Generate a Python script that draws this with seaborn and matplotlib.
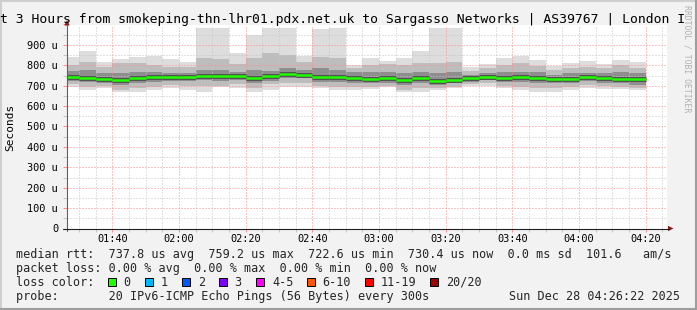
import numpy as np
import pandas as pd
import matplotlib
matplotlib.use("Agg")
import matplotlib.pyplot as plt
from matplotlib.patches import Rectangle, Polygon
from matplotlib.lines import Line2D
from matplotlib.ticker import FixedLocator, FuncFormatter
import seaborn as sns

# ---------------- data (microseconds) ----------------
bar_start = pd.date_range("2025-12-28 01:25", periods=35, freq="5min")

rtt_max = [842, 870, 818, 829, 842, 846, 830, 816, 985, 985, 862, 947, 985, 985, 848, 980, 985, 801,
           834, 821, 834, 870, 985, 985, 793, 805, 837, 847, 826, 798, 813, 821, 807, 826, 815]
rtt_hi2 = [801, 818, 793, 810, 813, 801, 790, 793, 834, 830, 806, 834, 859, 850, 818, 842, 834, 785,
           801, 806, 801, 810, 810, 818, 773, 785, 801, 810, 796, 777, 785, 793, 785, 801, 785]
rtt_hi3 = [773, 777, 761, 761, 769, 769, 761, 761, 777, 775, 769, 777, 772, 785, 777, 785, 777, 765,
           769, 769, 761, 769, 761, 769, 752, 761, 769, 769, 765, 752, 761, 764, 761, 769, 761]
rtt_median = [743, 738, 734, 728, 738, 742, 742, 744, 747, 747, 747, 738, 747, 759.2, 754, 742, 742, 738,
              733, 736, 728, 738, 722.6, 728, 738, 742, 738, 741, 736, 733, 733, 742, 738, 734, 730.4]
rtt_lo3 = [724, 720, 715, 703, 715, 720, 724, 724, 728, 722, 728, 712, 725, 736, 736, 720, 720, 715,
           712, 715, 703, 715, 703, 712, 720, 728, 720, 720, 712, 712, 712, 724, 715, 712, 703]
rtt_lo2 = [707, 695, 698, 679, 687, 695, 703, 698, 698, 700, 707, 687, 707, 712, 712, 698, 695, 695,
           695, 698, 679, 687, 687, 695, 707, 712, 698, 695, 687, 687, 695, 703, 698, 695, 687]
rtt_min = [696, 679, 690, 667, 667, 679, 690, 679, 667, 692, 690, 667, 679, 695, 695, 687, 679, 679,
           682, 692, 667, 671, 679, 687, 698, 698, 687, 679, 671, 671, 679, 687, 682, 684, 679]

y_ticks = [0, 100, 200, 300, 400, 500, 600, 700, 800, 900, 1000]
x_tick_labels = ["01:40", "02:00", "02:20", "02:40", "03:00", "03:20", "03:40", "04:00", "04:20"]

title = "t 3 Hours from smokeping-thn-lhr01.pdx.net.uk to Sargasso Networks | AS39767 | London I"
legend_rtt = "median rtt:  737.8 us avg  759.2 us max  722.6 us min  730.4 us now  0.0 ms sd  101.6   am/s"
legend_loss = "packet loss: 0.00 % avg  0.00 % max  0.00 % min  0.00 % now"
loss_labels = ["0", "1", "2", "3", "4-5", "6-10", "11-19", "20/20"]
loss_colors = ["#20ff00", "#00b8ff", "#0059ff", "#7e00ff", "#ff00ff", "#ff5500", "#ff0000", "#a10000"]
probe_text = "probe:       20 IPv6-ICMP Echo Pings (56 Bytes) every 300s"
date_text = "Sun Dec 28 04:26:22 2025"

# ---------------- style ----------------
sns.set_theme(style="white")
plt.rcParams["font.family"] = ["DejaVu Sans Mono"]

W, H = 697, 310
fig = plt.figure(figsize=(W / 100, H / 100), dpi=100, facecolor="#f2f2f2")


def fx(x):
    return x / W


def fy(y):
    return 1 - y / H


ax = fig.add_axes([fx(67), fy(228.5), 600 / W, 204 / H])
ax.set_facecolor("white")

t_start = np.array([ts.hour * 60 + ts.minute for ts in bar_start], dtype=float)
bin_w = 5.0

df = pd.DataFrame({"t": t_start, "max": rtt_max, "hi2": rtt_hi2, "hi3": rtt_hi3,
                   "med": rtt_median, "lo3": rtt_lo3, "lo2": rtt_lo2, "min": rtt_min})

for lo, hi, col in [("min", "max", "#dddddd"), ("lo2", "hi2", "#bdbdbd"), ("lo3", "hi3", "#8e8e8e")]:
    ax.bar(df["t"], df[hi] - df[lo], bottom=df[lo], width=bin_w, align="edge",
           color=col, linewidth=0, antialiased=False, zorder=1)

# median segments
seg = pd.DataFrame({
    "t": np.concatenate([df["t"], df["t"] + bin_w]),
    "rtt": np.concatenate([df["med"], df["med"]]),
    "bar": np.concatenate([np.arange(len(df)), np.arange(len(df))]),
})
sns.lineplot(data=seg, x="t", y="rtt", units="bar", estimator=None, ax=ax,
             color="#4a4a4a", linewidth=3.4, legend=False, zorder=3, solid_capstyle="butt")
sns.lineplot(data=seg, x="t", y="rtt", units="bar", estimator=None, ax=ax,
             color=loss_colors[0], linewidth=1.8, legend=False, zorder=4, solid_capstyle="butt")

t_end = 4 * 60 + 26 + 22 / 60
ax.set_xlim(t_end - 180, t_end)
ax.set_ylim(0, 1000)
ax.set_xlabel("")
ax.set_ylabel("")

x_major = [int(s[:2]) * 60 + int(s[3:]) for s in x_tick_labels]
ax.xaxis.set_major_locator(FixedLocator(x_major))
ax.set_xticklabels(x_tick_labels)
ax.xaxis.set_minor_locator(FixedLocator(np.arange(90, 270, 5)))
ax.yaxis.set_major_locator(FixedLocator(y_ticks))
ax.yaxis.set_minor_locator(FixedLocator(np.arange(50, 1000, 100)))
ax.yaxis.set_major_formatter(FuncFormatter(
    lambda v, p: "0" if v == 0 else ("" if v >= 1000 else f"{int(v)} u")))

ax.set_axisbelow(False)
dots = (0, (1, 2))
ax.grid(True, which="major", color="#ff8c8c", linestyle=dots, linewidth=0.72)
ax.grid(True, which="minor", color="#c4c4c4", linestyle=dots, linewidth=0.72)

for s in ax.spines.values():
    s.set_visible(False)

ax.tick_params(axis="x", which="major", length=2, width=0.7, color="#ff8c8c", pad=1.6,
               labelsize=7.4, labelcolor="black", bottom=True)
ax.tick_params(axis="x", which="minor", length=2, width=0.7, color="#c4c4c4", bottom=True)
ax.tick_params(axis="y", which="major", length=3, width=0.7, color="#ff8c8c", pad=3.4,
               labelsize=7.4, labelcolor="black", left=True)
ax.tick_params(axis="y", which="minor", length=3, width=0.7, color="#c4c4c4", left=True)

# axis lines + arrows
fig.add_artist(Line2D([fx(67), fx(67)], [fy(231), fy(25)], color="#606060", lw=0.8))
fig.add_artist(Line2D([fx(63), fx(669)], [fy(228.5), fy(228.5)], color="#202020", lw=0.8))
fig.add_artist(Polygon([[fx(64.3), fy(25.5)], [fx(69.7), fy(25.5)], [fx(67), fy(20)]],
                       closed=True, color="#8b1a1a", lw=0))
fig.add_artist(Polygon([[fx(668), fy(225.8)], [fx(668), fy(231.2)], [fx(673.5), fy(228.5)]],
                       closed=True, color="#8b1a1a", lw=0))

# texts
fig.text(fx(0.3), fy(19), title, ha="left", va="center", fontsize=9.45, color="black")
fig.text(fx(10), fy(127), "Seconds", rotation=90, ha="center", va="center", fontsize=8, color="black")
fig.text(fx(687), fy(5), "RRDTOOL / TOBI OETIKER", rotation=-90, ha="center", va="top",
         fontsize=5.9, color="#b0b0b0")

lx = fx(16.4)
fs = 8.5
fig.text(lx, fy(254.3), legend_rtt, ha="left", va="center", fontsize=fs)
fig.text(lx, fy(268.3), legend_loss, ha="left", va="center", fontsize=fs)
fig.text(lx, fy(282), "loss color:", ha="left", va="center", fontsize=fs)
fig.text(lx, fy(296.3), probe_text, ha="left", va="center", fontsize=fs)
fig.text(fx(680), fy(296.3), date_text, ha="right", va="center", fontsize=fs)

sq_x = [108, 145.3, 182.2, 219.1, 256.4, 306.7, 365.3, 430.2]
for sx, lab, col in zip(sq_x, loss_labels, loss_colors):
    fig.add_artist(Rectangle((fx(sx), fy(286.2)), 8 / W, 8 / H, facecolor=col,
                             edgecolor="black", lw=0.7, transform=fig.transFigure))
    fig.text(fx(sx + 15.5), fy(282), lab, ha="left", va="center", fontsize=fs)

# frame
fig.add_artist(Line2D([0, 1], [fy(1), fy(1)], color="#cfcfcf", lw=1.5))
fig.add_artist(Line2D([fx(1), fx(1)], [0, 1], color="#cfcfcf", lw=1.5))
fig.add_artist(Line2D([0, 1], [fy(309), fy(309)], color="#9e9e9e", lw=1.5))
fig.add_artist(Line2D([fx(696), fx(696)], [0, 1], color="#9e9e9e", lw=1.5))

fig.savefig("out.png", dpi=100, facecolor=fig.get_facecolor())
